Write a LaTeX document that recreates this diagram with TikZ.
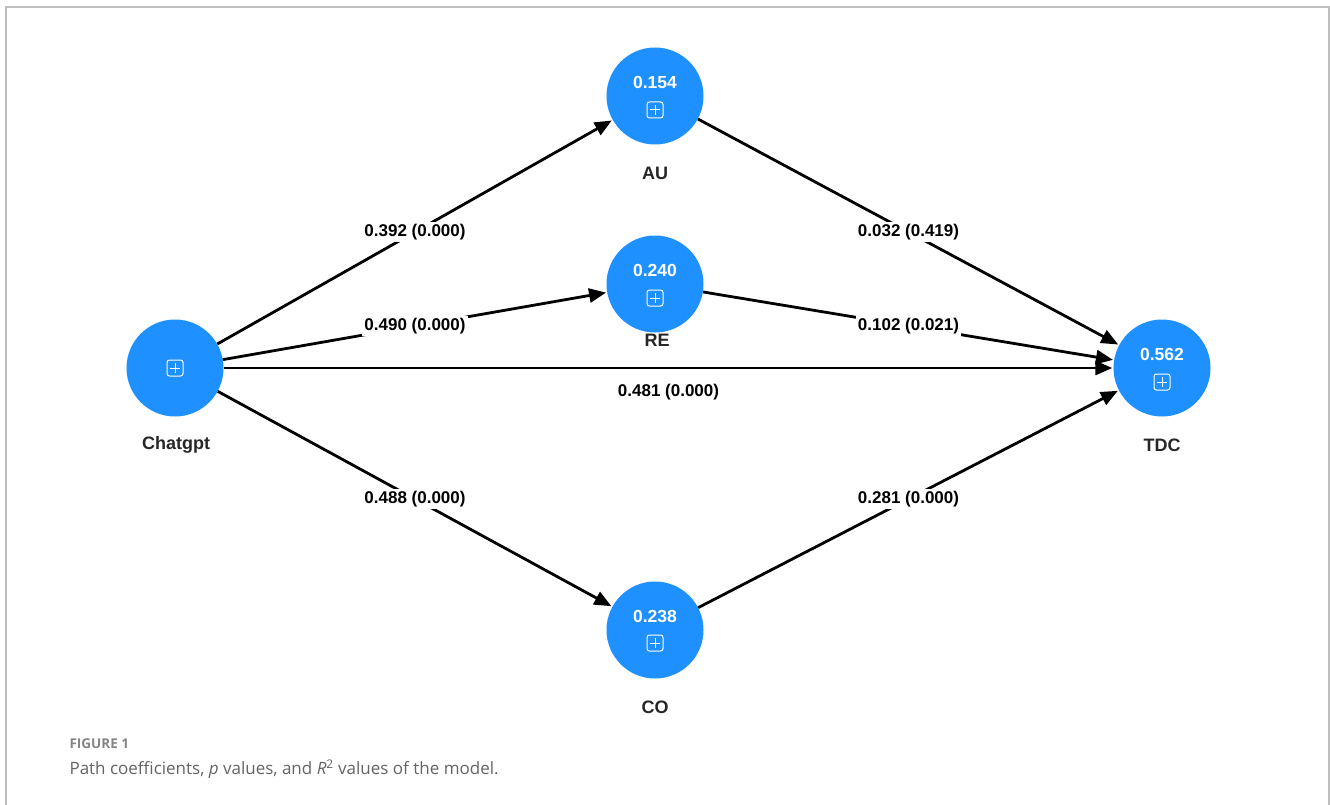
\documentclass[tikz,border=0pt]{standalone}
\usepackage{fontspec}
\setmainfont{Liberation Sans}
\newfontfamily\capfont{Open Sans}
\usetikzlibrary{arrows.meta}
\definecolor{nodeblue}{RGB}{30,144,255}
\definecolor{framegray}{RGB}{190,190,190}
\definecolor{capgray}{RGB}{100,100,100}
\begin{document}
\begin{tikzpicture}[x=1pt,y=-1pt,
  lv/.style={circle,fill=nodeblue,minimum size=97pt,inner sep=0pt},
  cname/.style={font=\fontsize{18}{21}\selectfont\bfseries,text=black!85},
  rsq/.style={font=\fontsize{17.5}{20}\selectfont\bfseries,text=white},
  plusbox/.style={draw=white,line width=1pt,rounded corners=2.5pt,minimum size=16pt,inner sep=0pt},
  edge/.style={line width=2.8pt,-{Triangle[length=17pt,width=14pt]},shorten >=1pt},
  elab/.style={fill=white,inner sep=2pt,font=\fontsize{17}{20}\selectfont\bfseries,text=black}
]
\useasboundingbox (0,0) rectangle (1330,805);
\draw[framegray,line width=2pt] (6,805) -- (6,7) -- (1329,7) -- (1329,805);

% latent variables
\node[lv] (ch) at (175,368) {};
\node[lv] (au) at (655,96) {};
\node[lv] (re) at (655,284) {};
\node[lv] (co) at (655,630) {};
\node[lv] (tdc) at (1162,368) {};

% names
\node[cname] (chn) at (176,445) {Chatgpt};
\node[cname] (aun) at (655,173) {AU};
\node[cname] (ren) at (657,340) {RE};
\node[cname] (con) at (655,707) {CO};
\node[cname] (tdcn) at (1162,445) {TDC};

% R2 values
\node[rsq] (aur) at (655,82) {0.154};
\node[rsq] (rer) at (655,270) {0.240};
\node[rsq] (cor) at (655,616) {0.238};
\node[rsq] (tdcr) at (1162,354) {0.562};

% plus icons
\foreach \n/\x/\y in {chp/175/368, aup/655/110, rep/655/298, cop/655/643, tdcp/1162/382}{
  \node[plusbox] (\n) at (\x,\y) {};
  \draw[white,line width=1pt] (\x-5,\y) -- (\x+5,\y) (\x,\y-5) -- (\x,\y+5);
}

% paths
\draw[edge] (ch) -- node[elab] {0.392 (0.000)} (au);
\draw[edge] (ch) -- node[elab] {0.490 (0.000)} (re);
\draw[edge] (ch) -- node[elab,fill=none,below=13pt] {0.481 (0.000)} (tdc);
\draw[edge] (ch) -- node[elab] {0.488 (0.000)} (co);
\draw[edge] (au) -- node[elab] {0.032 (0.419)} (tdc);
\draw[edge] (re) -- node[elab] {0.102 (0.021)} (tdc);
\draw[edge] (co) -- node[elab] {0.281 (0.000)} (tdc);

% caption
\node[anchor=west,font=\capfont\fontsize{13.5}{16}\selectfont\bfseries,text=black!48] (fig) at (66,744) {FIGURE 1};
\node[anchor=west,font=\capfont\fontsize{17}{20}\selectfont,text=capgray] (cap) at (66,769) {Path coefficients, \textit{p} values, and \textit{R}\textsuperscript{2} values of the model.};
\end{tikzpicture}
\end{document}
